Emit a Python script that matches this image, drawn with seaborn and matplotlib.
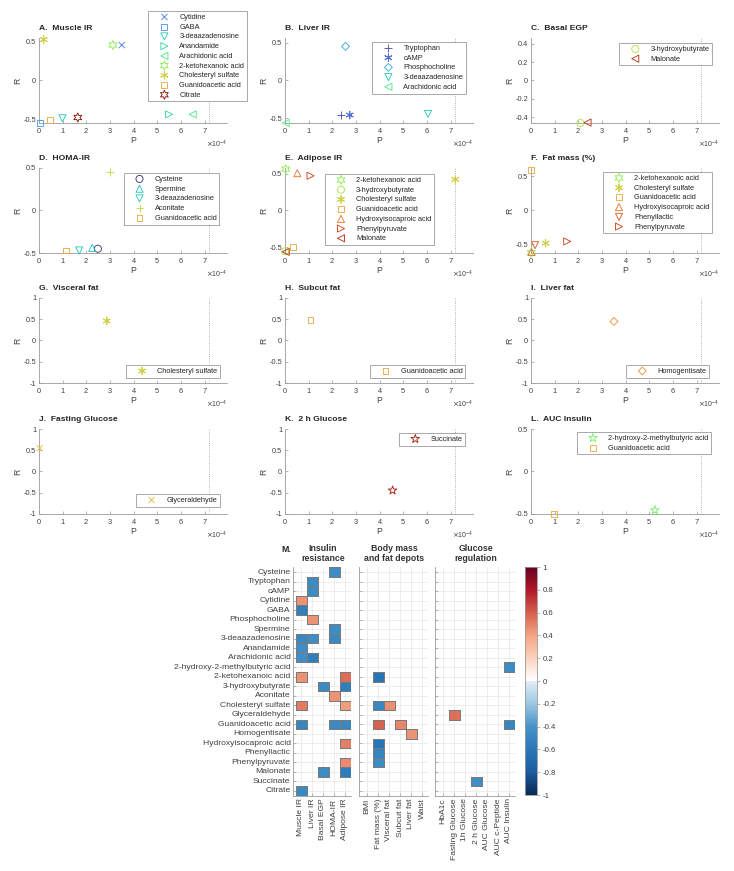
import numpy as np
import pandas as pd
import seaborn as sns
import matplotlib.pyplot as plt
from matplotlib.markers import MarkerStyle
from matplotlib.colors import LinearSegmentedColormap
from matplotlib.ticker import FuncFormatter, ScalarFormatter

sns.set_style("ticks")
plt.rcParams["font.family"] = ["Liberation Sans", "DejaVu Sans"]
plt.rcParams["axes.unicode_minus"] = False

metabolites = ["Cysteine", "Tryptophan", "cAMP", "Cytidine", "GABA", "Phosphocholine",
               "Spermine", "3-deaazadenosine", "Anandamide", "Arachidonic acid",
               "2-hydroxy-2-methylbutyric acid", "2-ketohexanoic acid", "3-hydroxybutyrate",
               "Aconitate", "Cholesteryl sulfate", "Glyceraldehyde", "Guanidoacetic acid",
               "Homogentisate", "Hydroxyisocaproic acid", "Phenyllactic", "Phenylpyruvate",
               "Malonate", "Succinate", "Citrate"]

insulin_traits = ["Muscle IR", "Liver IR", "Basal EGP", "HOMA-IR", "Adipose IR"]
body_traits = ["BMI", "Fat mass (%)", "Visceral fat", "Subcut fat", "Liver fat", "Waist"]
glucose_traits = ["HbA1c", "Fasting Glucose", "1h Glucose", "2 h Glucose", "AUC Glucose",
                  "AUC c-Peptide", "AUC Insulin"]

# P values (x1e-4) and correlation R per panel
muscle_ir_names = ["Cytidine", "GABA", "3-deaazadenosine", "Anandamide", "Arachidonic acid",
                   "2-ketohexanoic acid", "Cholesteryl sulfate", "Guanidoacetic acid", "Citrate"]
muscle_ir_p = [3.50, 0.04, 0.99, 5.50, 6.50, 3.12, 0.20, 0.48, 1.64]
muscle_ir_r = [0.45, -0.54, -0.48, -0.43, -0.43, 0.45, 0.52, -0.50, -0.47]

liver_ir_names = ["Tryptophan", "cAMP", "Phosphocholine", "3-deaazadenosine", "Arachidonic acid"]
liver_ir_p = [2.35, 2.74, 2.56, 6.05, 0.03]
liver_ir_r = [-0.455, -0.455, 0.45, -0.44, -0.56]

basal_egp_names = ["3-hydroxybutyrate", "Malonate"]
basal_egp_p = [2.09, 2.39]
basal_egp_r = [-0.465, -0.46]

homa_ir_names = ["Cysteine", "Spermine", "3-deaazadenosine", "Aconitate", "Guanidoacetic acid"]
homa_ir_p = [2.49, 2.25, 1.70, 3.01, 1.16]
homa_ir_r = [-0.45, -0.44, -0.47, 0.45, -0.47]

adipose_ir_names = ["2-ketohexanoic acid", "3-hydroxybutyrate", "Cholesteryl sulfate",
                    "Guanidoacetic acid", "Hydroxyisocaproic acid", "Phenylpyruvate", "Malonate"]
adipose_ir_p = [0.03, 0.01, 7.20, 0.35, 0.52, 1.08, 0.03]
adipose_ir_r = [0.56, -0.55, 0.42, -0.49, 0.505, 0.47, -0.56]

fat_mass_names = ["2-ketohexanoic acid", "Cholesteryl sulfate", "Guanidoacetic acid",
                  "Hydroxyisocaproic acid", "Phenyllactic", "Phenylpyruvate"]
fat_mass_p = [0.01, 0.62, 0.01, 0.02, 0.17, 1.53]
fat_mass_r = [-0.62, -0.48, 0.59, -0.61, -0.51, -0.455]

visceral_names, visceral_p, visceral_r = ["Cholesteryl sulfate"], [2.87], [0.46]
subcut_names, subcut_p, subcut_r = ["Guanidoacetic acid"], [1.08], [0.49]
liver_fat_names, liver_fat_p, liver_fat_r = ["Homogentisate"], [3.51], [0.45]
fasting_names, fasting_p, fasting_r = ["Glyceraldehyde"], [0.03], [0.55]
glucose2h_names, glucose2h_p, glucose2h_r = ["Succinate"], [4.55], [-0.445]
auc_ins_names = ["2-hydroxy-2-methylbutyric acid", "Guanidoacetic acid"]
auc_ins_p = [5.24, 0.99]
auc_ins_r = [-0.455, -0.50]

p_threshold = 7.18

panels = [
    ("A.  Muscle IR", "Muscle IR", muscle_ir_names, muscle_ir_p, muscle_ir_r),
    ("B.  Liver IR", "Liver IR", liver_ir_names, liver_ir_p, liver_ir_r),
    ("C.  Basal EGP", "Basal EGP", basal_egp_names, basal_egp_p, basal_egp_r),
    ("D.  HOMA-IR", "HOMA-IR", homa_ir_names, homa_ir_p, homa_ir_r),
    ("E.  Adipose IR", "Adipose IR", adipose_ir_names, adipose_ir_p, adipose_ir_r),
    ("F.  Fat mass (%)", "Fat mass (%)", fat_mass_names, fat_mass_p, fat_mass_r),
    ("G.  Visceral fat", "Visceral fat", visceral_names, visceral_p, visceral_r),
    ("H.  Subcut fat", "Subcut fat", subcut_names, subcut_p, subcut_r),
    ("I.  Liver fat", "Liver fat", liver_fat_names, liver_fat_p, liver_fat_r),
    ("J.  Fasting Glucose", "Fasting Glucose", fasting_names, fasting_p, fasting_r),
    ("K.  2 h Glucose", "2 h Glucose", glucose2h_names, glucose2h_p, glucose2h_r),
    ("L.  AUC Insulin", "AUC Insulin", auc_ins_names, auc_ins_p, auc_ins_r),
]

# axis limits, y ticks and legend corner (right, top in pixels)
t5 = [-0.5, 0, 0.5]
t10 = [-1, -0.5, 0, 0.5, 1]
panel_style = [
    (0.54, t5, (247, 11)), (0.56, t5, (466, 42)), (0.465, [-0.4, -0.2, 0, 0.2, 0.4], (712, 43)),
    (0.5, t5, (219, 173)), (0.575, t5, (434, 174)), (0.625, t5, (712, 172)),
    (1, t10, (220, 365)), (1, t10, (465, 365)), (1, t10, (709, 365)),
    (1, t10, (220, 494)), (1, t10, (465, 433)), (0.5, t5, (711, 432)),
]

W, H = 734, 871
fig = plt.figure(figsize=(W / 100, H / 100), dpi=100)


def box(x0, y0, w, h):
    return [x0 / W, 1 - (y0 + h) / H, w / W, h / H]


mpl_markers = ["o", "+", (6, 2, 0), "x", "s", "D", "^", "v", ">", "<", "*", (6, 1, 0)]
marker_size = [26, 32, 30, 20, 18, 16, 26, 26, 26, 26, 42, 42]
palette = sns.color_palette("turbo", len(metabolites), desat=0.82)

GRAY = "#9a9a9a"
TXT = "#404040"
fmt_g = FuncFormatter(lambda v, _: f"{v + 0:g}")

col_left = [39, 285, 531]
row_top = [38, 168, 298, 429]

for i, ((title, trait, names, pvals, rvals), (ylim, yticks, leg_xy)) in enumerate(zip(panels, panel_style)):
    row, col = divmod(i, 3)
    ax = fig.add_axes(box(col_left[col], row_top[row], 188, 85))
    for name, pv, rv in zip(names, pvals, rvals):
        k = metabolites.index(name)
        sns.scatterplot(x=[pv * 1e-4], y=[rv], ax=ax, s=marker_size[k % 12],
                        marker=MarkerStyle(mpl_markers[k % 12], fillstyle="none"),
                        color=palette[k], linewidth=0.65, label=name, legend=False,
                        clip_on=False, zorder=3)
    ax.axvline(p_threshold * 1e-4, color=GRAY, ls=":", lw=0.6, zorder=1)
    ax.set_xlim(0, 7.95e-4)
    ax.set_xticks(np.arange(8) * 1e-4)
    sf = ScalarFormatter(useMathText=True)
    sf.set_powerlimits((0, 0))
    ax.xaxis.set_major_formatter(sf)
    ax.xaxis.get_offset_text().set_fontsize(5)
    ax.xaxis.get_offset_text().set_color(TXT)
    ax.set_ylim(-ylim, ylim)
    ax.set_yticks(yticks)
    ax.yaxis.set_major_formatter(fmt_g)
    sns.despine(ax=ax)
    for s in ["left", "bottom"]:
        ax.spines[s].set_color(GRAY)
        ax.spines[s].set_linewidth(0.6)
    ax.tick_params(direction="in", length=2, width=0.5, color=GRAY, labelsize=5.3,
                   labelcolor=TXT, pad=2)
    ax.set_xlabel("P", fontsize=6.2, color=TXT, labelpad=1)
    ax.set_ylabel("R", fontsize=6.2, color=TXT, labelpad=1)
    fig.text(col_left[col] / W, 1 - (row_top[row] - 9.5) / H, title, fontsize=6.1,
             fontweight="bold", color="#262626", va="center", ha="left")
    lg = ax.legend(loc="upper right", bbox_to_anchor=(leg_xy[0] / W, 1 - leg_xy[1] / H),
                   bbox_transform=fig.transFigure, borderaxespad=0, fontsize=5.3,
                   fancybox=False, framealpha=1, edgecolor=GRAY, borderpad=0.37,
                   labelspacing=0.35, handlelength=3.6, handletextpad=0.24, scatterpoints=1)
    lg.get_frame().set_linewidth(0.6)
    for t in lg.get_texts():
        t.set_color("#262626")

# heatmap of significant correlations
all_traits = insulin_traits + body_traits + glucose_traits
heat = pd.DataFrame(np.nan, index=metabolites, columns=all_traits)
for title, trait, names, pvals, rvals in panels:
    heat.loc[names, trait] = rvals

cmap = LinearSegmentedColormap.from_list("corr", [
    (0.0, "#0b2a56"), (0.1, "#1a5ca0"), (0.2, "#2a78b8"), (0.3, "#4593c8"),
    (0.4, "#9cc6e2"), (0.4999, "#e3eef7"), (0.5, "#ffffff"), (0.6, "#fbd3c0"),
    (0.7, "#f4a582"), (0.8, "#d6604d"), (0.9, "#b2182b"), (1.0, "#67001f")])

cell_w, cell_h = 11, 228.4 / 24
group_left = [295.5, 361.5, 437.5]
heat_top = 567.3
cax = fig.add_axes(box(525, 567, 12, 228))
groups = [insulin_traits, body_traits, glucose_traits]
for g, (traits, left) in enumerate(zip(groups, group_left)):
    n = len(traits)
    hax = fig.add_axes(box(left - 0.2 * cell_w, heat_top, (n + 0.2) * cell_w, 24 * cell_h))
    sub = heat[traits]
    sns.heatmap(sub, ax=hax, cmap=cmap, vmin=-1, vmax=1, mask=sub.isna(), linewidths=0.7,
                linecolor="#7a7a7a", cbar=(g == 0), cbar_ax=cax if g == 0 else None)
    mesh = hax.collections[0]
    ok = np.isfinite(sub.to_numpy()).ravel()[:, None]
    mesh.set_edgecolor(np.where(ok, [0.48, 0.48, 0.48, 1.0], [0, 0, 0, 0]))
    hax.set_xlim(-0.2, n)
    hax.set_ylim(24, 0)
    hax.set_xticks(np.arange(n) + 0.5)
    hax.set_xticklabels(traits, rotation=90)
    hax.set_yticks(np.arange(24) + 0.5)
    hax.set_yticklabels(metabolites, rotation=0)
    hax.set_xlabel("")
    hax.set_ylabel("")
    hax.grid(True, color="#e6e6e6", lw=0.5)
    hax.set_axisbelow(True)
    for s in ["left", "bottom"]:
        hax.spines[s].set_visible(True)
        hax.spines[s].set_color(GRAY)
        hax.spines[s].set_linewidth(0.6)
    hax.tick_params(direction="in", length=2, width=0.5, color=GRAY, labelsize=6.1,
                    labelcolor=TXT, pad=2)
    if g > 0:
        hax.tick_params(labelleft=False)
    if g == 0:
        cb = mesh.colorbar

cb.set_ticks(np.round(np.arange(-1, 1.01, 0.2), 1))
cb.ax.yaxis.set_major_formatter(fmt_g)
cb.ax.tick_params(labelsize=5.6, length=2, width=0.5, color=GRAY, labelcolor=TXT, pad=2)
cb.outline.set_edgecolor(GRAY)
cb.outline.set_linewidth(0.6)

fig.text(291 / W, 1 - 549 / H, "M.", ha="right", va="center", fontsize=6.3,
         fontweight="bold", color="#262626")
for label, cx in zip(["Insulin\nresistance", "Body mass\nand fat depots", "Glucose\nregulation"],
                     [323, 394, 476]):
    fig.text(cx / W, 1 - 553.5 / H, label, ha="center", va="center", fontsize=6.3,
             fontweight="bold", linespacing=1.05, color="#333333")

fig.savefig("out.png", dpi=100)
